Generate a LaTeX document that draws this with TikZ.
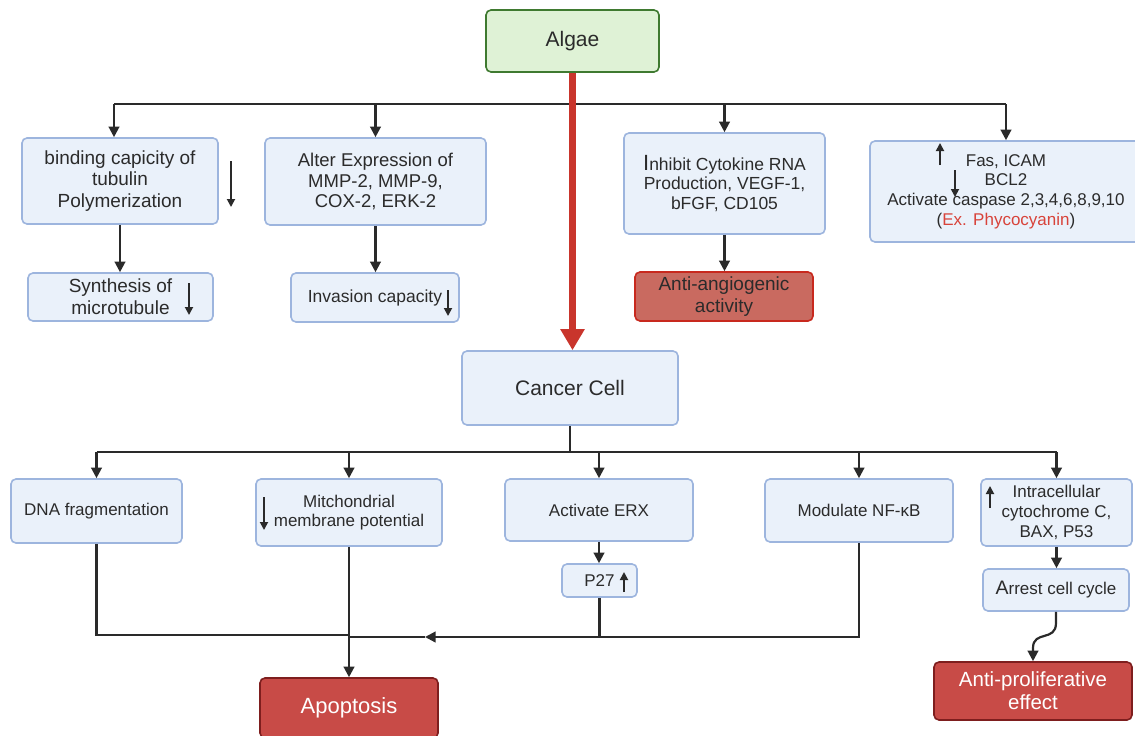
\documentclass[tikz,border=0pt]{standalone}
\usepackage{fontspec}
\setmainfont{Liberation Sans}
\usetikzlibrary{arrows.meta}

\definecolor{txt}{HTML}{2B2B2B}
\definecolor{boxfill}{HTML}{EAF1FA}
\definecolor{boxline}{HTML}{9DB5DE}
\definecolor{algfill}{HTML}{DFF2D6}
\definecolor{algline}{HTML}{3F7A30}
\definecolor{angfill}{HTML}{C96A60}
\definecolor{angline}{HTML}{C8291E}
\definecolor{resfill}{HTML}{C84B47}
\definecolor{resline}{HTML}{7E1E1E}
\definecolor{mainred}{HTML}{C9352C}
\definecolor{linecol}{HTML}{2A2A2A}
\definecolor{exred}{HTML}{D8433A}

\begin{document}
\begin{tikzpicture}[x=1pt,y=-1pt,
  box/.style={draw=boxline, fill=boxfill, line width=1.6pt, rounded corners=5pt,
    inner sep=0pt, align=center, text=txt},
  algbox/.style={box, draw=algline, fill=algfill},
  angbox/.style={box, draw=angline, fill=angfill},
  resbox/.style={box, draw=resline, fill=resfill, text=white},
  fA/.style={font=\fontsize{21}{24}\selectfont},
  fB/.style={font=\fontsize{19}{21.7}\selectfont},
  fBb/.style={font=\fontsize{18.5}{20.7}\selectfont},
  fC/.style={font=\fontsize{17.5}{19.5}\selectfont},
  fD/.style={font=\fontsize{17}{19.7}\selectfont},
  conn/.style={draw=linecol, line width=2.2pt},
  arr/.style={conn, -{Triangle[length=10.5pt,width=10.5pt]}},
  tick/.style={draw=linecol, line width=1.8pt, -{Triangle[length=8pt,width=8pt]}},
]
\clip (0,0) rectangle (1135,736);
\fill[white] (0,0) rectangle (1135,736);

% --- top level ---
\node[algbox, fA, minimum width=173, minimum height=62] (algae) at (572.5,41) {Algae};

% --- first row of effects ---
\node[box, fB, minimum width=196, minimum height=86] (b1) at (120,181)
  {binding capicity of\\tubulin\\Polymerization};
\node[box, fBb, minimum width=221, minimum height=87] (b2) at (375.5,181.5)
  {Alter Expression of\\MMP-2, MMP-9,\\COX-2, ERK-2};
\node[box, fC, minimum width=201, minimum height=101] (b3) at (724.5,183.5)
  {{\fontsize{22}{19.5}\selectfont I}nhibit Cytokine RNA\\Production, VEGF-1,\\bFGF, CD105};
\node[box, fD, minimum width=272, minimum height=101] (b4) at (1006,191.5)
  {Fas, ICAM\\BCL2\\Activate caspase 2,3,4,6,8,9,10\\(\textcolor{exred}{Ex. Phycocyanin})};

% --- second row ---
\node[box, fB, minimum width=185, minimum height=48] (s1) at (120.5,297)
  {Synthesis of\\microtubule};
\node[box, fC, minimum width=168, minimum height=49] (s2) at (375,297.5)
  {Invasion capacity};
\node[angbox, fB, minimum width=178, minimum height=49, text=txt] (angio) at (724,296.5)
  {Anti-angiogenic\\activity};

% --- cancer cell ---
\node[box, fA, minimum width=216, minimum height=74] (cancer) at (570,388) {Cancer Cell};

% --- mechanisms in the cell ---
\node[box, fD, minimum width=171, minimum height=64] (dna) at (96.5,511) {DNA fragmentation};
\node[box, fD, minimum width=186, minimum height=67] (mito) at (349,512.5)
  {Mitchondrial\\membrane potential};
\node[box, fD, minimum width=188, minimum height=62] (erx) at (599,510) {Activate ERX};
\node[box, fD, minimum width=75, minimum height=33] (p27) at (599.5,580.5) {P27};
\node[box, fD, minimum width=188, minimum height=63] (nfkb) at (859,510.5) {Modulate NF-κB};
\node[box, fD, minimum width=151, minimum height=67] (intra) at (1056.5,512.5)
  {Intracellular\\cytochrome C,\\BAX, P53};
\node[box, fD, minimum width=146, minimum height=42] (arrest) at (1056,590)
  {{\fontsize{19.5}{19.7}\selectfont A}rrest cell cycle};

% --- outcomes ---
\node[resbox, font=\fontsize{22}{24}\selectfont, minimum width=178, minimum height=60] (apop) at (349,708) {Apoptosis};
\node[resbox, font=\fontsize{20.5}{23}\selectfont, minimum width=198, minimum height=58] (prolif) at (1033,691)
  {Anti-proliferative\\effect};

% --- top distribution line ---
\coordinate (busT) at (572,104);
\coordinate (t1) at ([xshift=-6]b1.north |- busT);
\draw[conn] (t1) -- (b4.north |- busT);
\draw[arr] (t1) -- (t1 |- b1.north);
\draw[arr] (b2.north |- busT) -- (b2.north);
\draw[arr] (b3.north |- busT) -- (b3.north);
\draw[arr] (b4.north |- busT) -- (b4.north);

\draw[arr] (b1.south) -- (b1.south |- s1.north);
\draw[arr] (b2.south) -- (b2.south |- s2.north);
\draw[arr] (b3.south) -- (b3.south |- angio.north);

% --- main red arrow ---
\draw[mainred, line width=6.5pt, -{Triangle[length=21pt,width=23pt]}]
  (algae.south) -- (algae.south |- cancer.north);

% --- distribution below the cancer cell ---
\coordinate (busB) at (570,452);
\draw[conn] (cancer.south) -- (busB);
\draw[conn] (dna.north |- busB) -- (intra.north |- busB);
\draw[arr] (dna.north |- busB) -- (dna.north);
\draw[arr] (mito.north |- busB) -- (mito.north);
\draw[arr] (erx.north |- busB) -- (erx.north);
\draw[arr] (nfkb.north |- busB) -- (nfkb.north);
\draw[arr] (intra.north |- busB) -- (intra.north);

\draw[arr] (erx.south) -- (erx.south |- p27.north);

% --- merge into apoptosis ---
\coordinate (jl) at (349,635);
\coordinate (jr) at (349,637);
\coordinate (ah) at (425,637);
\draw[conn] (dna.south) |- (jl);
\draw[arr] (mito.south) -- (apop.north);
\draw[conn] (p27.south) -- (p27.south |- jr);
\draw[arr] (nfkb.south) |- (ah);
\draw[conn] (ah) -- (jr);

% --- right branch ---
\draw[arr] (intra.south) -- (intra.south |- arrest.north);
\coordinate (w1) at (1056,623);
\coordinate (w2) at (1033,648);
\draw[arr] (arrest.south) -- (w1) .. controls (1056,642) and (1033,630) .. (w2) -- (w2 |- prolif.north);

% --- small up/down indicators ---
\draw[tick] (231,161) -- (231,207);
\draw[tick] (189,283) -- (189,315);
\draw[tick] (448,290) -- (448,316);
\draw[tick] (940,165) -- (940,143);
\draw[tick] (955,170) -- (955,197);
\draw[tick] (264,497) -- (264,530);
\draw[tick] (624,592) -- (624,572);
\draw[tick] (990,508) -- (990,486);
\end{tikzpicture}
\end{document}
